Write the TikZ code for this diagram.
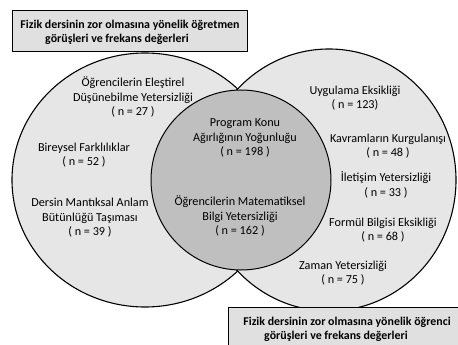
\documentclass[tikz,border=0pt]{standalone}
\usepackage{fontspec}
\setmainfont{Carlito}
\definecolor{lightfill}{HTML}{E6E6E6}
\definecolor{midfill}{HTML}{BFBFBF}
\definecolor{boxfill}{HTML}{E0E0E0}
\begin{document}
\begin{tikzpicture}[x=1pt,y=-1pt,
  lbl/.style={align=center, font=\fontsize{12.2}{14.5}\selectfont, inner sep=0pt},
  boxtext/.style={align=center, font=\bfseries\fontsize{11.9}{14}\selectfont, inner sep=0pt},
  titlebox/.style={draw=black, line width=1.1pt, fill=boxfill, inner sep=0pt},
  bigset/.style={draw=black, line width=1.1pt, fill=lightfill},
  midset/.style={draw=black, line width=1pt, fill=midfill}]
\useasboundingbox (0,0) rectangle (458,345);
\begin{scope}
\clip (0,0) rectangle (458,345);
\path[bigset] (145,180) ellipse [x radius=133pt, y radius=127pt];
\path[bigset] (329,180) ellipse [x radius=127pt, y radius=131pt];
\path[midset] (241,180) circle [radius=90pt];

% left set
\node[lbl] (t1) at (133,97) {Öğrencilerin Eleştirel\\Düşünebilme Yetersizliği\\( n = 27 )};
\node[lbl] (t2) at (84,155) {Bireysel Farklılıklar\\( n = 52 )};
\node[lbl] (t3) at (90,218) {Dersin Mantıksal Anlam\\Bütünlüğü Taşıması\\( n = 39 )};
% intersection
\node[lbl] (m1) at (245,138) {Program Konu\\Ağırlığının Yoğunluğu\\( n = 198 )};
\node[lbl] (m2) at (240,216) {Öğrencilerin Matematiksel\\Bilgi Yetersizliği\\( n = 162 )};
% right set
\node[lbl] (r1) at (355,98) {Uygulama Eksikliği\\( n = 123)};
\node[lbl] (r2) at (388,146) {Kavramların Kurgulanışı\\( n = 48 )};
\node[lbl] (r3) at (386,185) {İletişim Yetersizliği\\( n = 33 )};
\node[lbl] (r4) at (383,230) {Formül Bilgisi Eksikliği\\( n = 68 )};
\node[lbl] (r5) at (343,273) {Zaman Yetersizliği\\( n = 75 )};

% title boxes
\node[titlebox, minimum width=235pt, minimum height=41pt, anchor=north west] (tbox) at (12,10) {};
\node[boxtext] (ttext) at (130,32) {Fizik dersinin zor olmasına yönelik öğretmen\\görüşleri ve frekans değerleri\hspace*{26pt}};
\node[titlebox, minimum width=250pt, minimum height=50pt, anchor=north west] (bbox) at (228,307) {};
\node[boxtext] (btext) at (347,329) {Fizik dersinin zor olmasına yönelik öğrenci\\görüşleri ve frekans değerleri\hspace*{22pt}};
\end{scope}
\end{tikzpicture}
\end{document}
